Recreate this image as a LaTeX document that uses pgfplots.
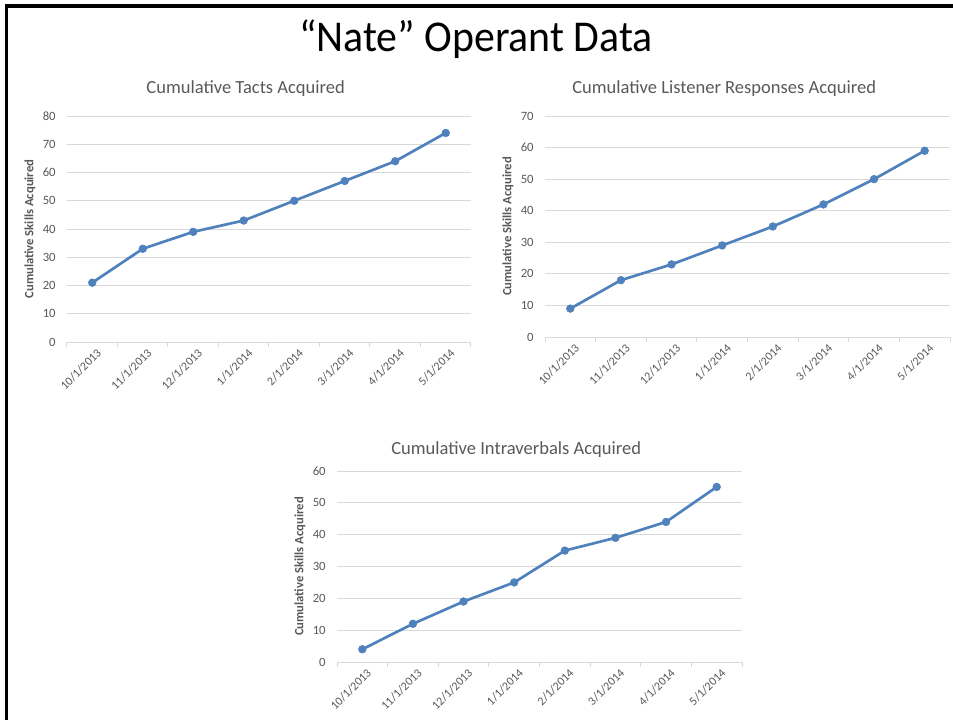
\documentclass[border=0pt]{standalone}
\usepackage{pgfplots}
\pgfplotsset{compat=1.18}
\usepackage{fontspec}
\setmainfont{Carlito}
\definecolor{lineblue}{HTML}{4F81BD}
\definecolor{gridgray}{HTML}{D9D9D9}
\definecolor{txtgray}{HTML}{595959}
\pgfplotsset{
  nate/.style={
    scale only axis,
    anchor=south west,
    /pgf/number format/assume math mode=true,
    xmin=-0.5, xmax=7.5, ymin=0,
    xtick={0,...,7},
    xticklabels={10/1/2013,11/1/2013,12/1/2013,1/1/2014,2/1/2014,3/1/2014,4/1/2014,5/1/2014},
    minor xtick={-0.5,0.5,...,7.5},
    major tick length=0pt,
    minor tick length=4pt,
    tick align=outside,
    xtick pos=lower,
    ytick pos=left,
    ytick style={draw=none},
    minor tick style={gridgray, line width=0.75pt},
    axis x line*=bottom,
    axis y line*=left,
    y axis line style={draw=none},
    x axis line style={gridgray, line width=0.75pt},
    ymajorgrids,
    grid style={gridgray, line width=0.75pt},
    tick label style={font=\fontsize{9.5}{11}\selectfont, text=txtgray},
    yticklabel style={xshift=-5pt},
    xticklabel style={rotate=45, anchor=north east, inner sep=1pt, yshift=-4pt, font=\fontsize{9}{11}\selectfont},
    every axis y label/.style={at={([xshift=-27.75pt]axis description cs:0,0.5)}, rotate=90, anchor=center, font=\fontsize{9.5}{11}\selectfont\bfseries, text=txtgray},
    ylabel={Cumulative Skills Acquired},
    every axis title/.style={at={([xshift=-17.5pt]axis description cs:0.5,1)}, anchor=center, yshift=20.25pt, font=\fontsize{13.9}{16}\selectfont, text=txtgray},
    clip=false,
  },
  nateline/.style={lineblue, line width=2pt, mark=*, mark size=2.9pt, mark options={solid, fill=lineblue, draw=lineblue, line width=0.4pt}},
}
\begin{document}
\begin{tikzpicture}
\path[fill=white, use as bounding box] (0,0) rectangle (714.75pt,-540pt);
\fill[black] (3.75pt,-3pt) rectangle (714.75pt,-6pt);
\fill[black] (3.75pt,-3pt) rectangle (6pt,-540pt);
\node[font=\fontsize{33}{38}\selectfont, xscale=0.95] at (357pt,-29.5pt) {“Nate” Operant Data};

\begin{axis}[nate, at={(50.25pt,-256.5pt)}, width=303pt, height=169.5pt,
  ymax=80, ytick={0,10,...,80}, title={Cumulative Tacts Acquired}]
\addplot[nateline] coordinates {(0,21) (1,33) (2,39) (3,43) (4,50) (5,57) (6,64) (7,74)};
\end{axis}

\begin{axis}[nate, at={(408.75pt,-252.75pt)}, width=303.75pt, height=165.75pt,
  ymax=70, ytick={0,10,...,70}, title={Cumulative Listener Responses Acquired}]
\addplot[nateline] coordinates {(0,9) (1,18) (2,23) (3,29) (4,35) (5,42) (6,50) (7,59)};
\end{axis}

\begin{axis}[nate, at={(252.75pt,-496.5pt)}, width=303.75pt, height=143.25pt,
  ymax=60, ytick={0,10,...,60}, title={Cumulative Intraverbals Acquired},
  title style={yshift=-4.5pt}]
\addplot[nateline] coordinates {(0,4) (1,12) (2,19) (3,25) (4,35) (5,39) (6,44) (7,55)};
\end{axis}
\end{tikzpicture}
\end{document}
